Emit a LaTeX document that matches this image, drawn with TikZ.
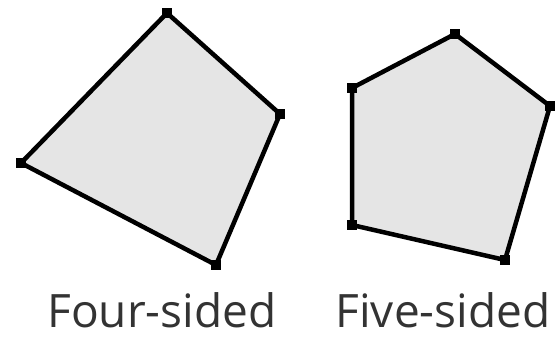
\documentclass[tikz,border=0pt]{standalone}
\usepackage{fontspec}
\setsansfont{Open Sans}
\usepackage{tikz}

\begin{document}
\begin{tikzpicture}[x=1pt,y=-1pt,
		vertex/.style={fill=black,inner sep=0pt,minimum size=10pt},
		face/.style={draw=black,fill=black!10,line width=4.5pt,line join=miter},
		caption/.style={font=\sffamily\fontsize{46}{50}\selectfont,text=black!80,anchor=base}]
				\useasboundingbox (0,0) rectangle (556,340);
				% four-sided
				\coordinate (A) at (167,13);
				\coordinate (B) at (280,114);
				\coordinate (C) at (216,265);
				\coordinate (D) at (21,163);
				\draw[face] (A)--(B)--(C)--(D)--cycle;
				\node[vertex] (a) at (A) {};
				\node[vertex] (b) at (B) {};
				\node[vertex] (c) at (C) {};
				\node[vertex] (d) at (D) {};
				% five-sided
				\coordinate (P) at (455,34);
				\coordinate (Q) at (550,106);
				\coordinate (R) at (505,260);
				\coordinate (S) at (352,225);
				\coordinate (T) at (352,88);
				\draw[face] (P)--(Q)--(R)--(S)--(T)--cycle;
				\node[vertex] (p) at (P) {};
				\node[vertex] (q) at (Q) {};
				\node[vertex] (r) at (R) {};
				\node[vertex] (s) at (S) {};
				\node[vertex] (t) at (T) {};
				\node[caption] (four) at (162,327) {Four-sided};
				\node[caption] (five) at (443,327) {Five-sided};
			\end{tikzpicture}
\end{document}
